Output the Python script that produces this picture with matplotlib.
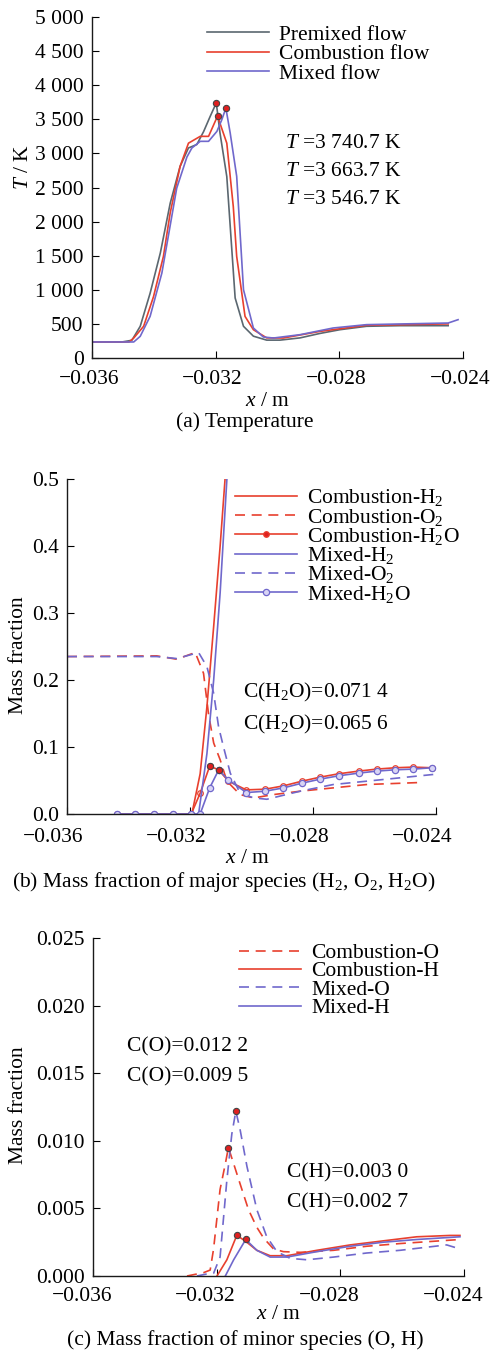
import numpy as np
import matplotlib
matplotlib.use('Agg')
import matplotlib.pyplot as plt
from matplotlib import rcParams
from matplotlib.ticker import FuncFormatter
from matplotlib.transforms import ScaledTranslation

rcParams.update({
    'font.family': ['Liberation Serif', 'DejaVu Serif'], 'font.size': 15.5,
    'mathtext.fontset': 'custom', 'mathtext.rm': 'Liberation Serif',
    'mathtext.it': 'Liberation Serif:italic',
    'axes.linewidth': 1.0, 'axes.spines.top': False, 'axes.spines.right': False,
    'xtick.direction': 'in', 'ytick.direction': 'in',
    'xtick.major.size': 5, 'ytick.major.size': 5,
    'xtick.major.pad': 7, 'ytick.major.pad': 6,
    'axes.edgecolor': '0.1', 'lines.linewidth': 1.2,
})
GRAY = '#5b6770'; RED = '#e8402e'; BLUE = '#7068cc'
DASH = (0, (6, 4))

# ---------- (a) temperature ----------
x_pre = [-0.0360, -0.03503, -0.03471, -0.03444, -0.03412, -0.03379, -0.03347, -0.03315, -0.03288,
         -0.03261, -0.03239, -0.03218, -0.03198, -0.03186, -0.03164, -0.03137, -0.03110, -0.03078,
         -0.03035, -0.02992, -0.02927, -0.02863, -0.02798, -0.02712, -0.02604, -0.02448]
T_pre = [235, 235, 260, 465, 950, 1540, 2270, 2810, 3080, 3130, 3320, 3540, 3740.7, 3300, 2660, 880,
         465, 320, 262, 262, 295, 360, 415, 465, 474, 474]
x_com = [-0.0360, -0.03480, -0.03465, -0.03433, -0.03401, -0.03369, -0.03347, -0.03315, -0.03288,
         -0.03250, -0.03223, -0.03194, -0.03164, -0.03143, -0.03132, -0.03105, -0.03078, -0.03035,
         -0.02981, -0.02863, -0.02712, -0.02448]
T_com = [235, 235, 293, 465, 900, 1490, 2130, 2810, 3150, 3250, 3250, 3546.7, 3150, 2220, 1490,
         610, 415, 295, 293, 390, 480, 500]
x_mix = [-0.0360, -0.03465, -0.03444, -0.03412, -0.03374, -0.03326, -0.03293, -0.03277, -0.03250,
         -0.03223, -0.03196, -0.03180, -0.03167, -0.03153, -0.03132, -0.03110, -0.03078, -0.03046,
         -0.03013, -0.02927, -0.02820, -0.02712, -0.02448, -0.02416]
T_mix = [235, 235, 318, 611, 1246, 2490, 2947, 3079, 3177, 3177, 3323, 3495, 3663.7, 3299, 2664,
         1002, 440, 308, 293, 342, 440, 489, 513, 562]
T_notes = ['3 740.7', '3 663.7', '3 546.7']

# ---------- (b) major species ----------
xb_h2o = [-0.03438, -0.03378, -0.03318, -0.03256, -0.03196, -0.03167, -0.03136, -0.03107, -0.03075,
          -0.03017, -0.02956, -0.02896, -0.02836, -0.02777, -0.02717, -0.02652, -0.02593, -0.02533,
          -0.02474, -0.02414]
com_h2o = [0, 0, 0, 0, 0, 0.031, 0.0714, 0.066, 0.049, 0.036, 0.037, 0.042, 0.049, 0.055, 0.060,
           0.064, 0.067, 0.069, 0.070, 0.069]
mix_h2o = [0, 0, 0, 0, 0, 0.0, 0.039, 0.0656, 0.051, 0.032, 0.034, 0.039, 0.046, 0.052, 0.057,
           0.061, 0.064, 0.066, 0.067, 0.069]
xb_com_h2 = [-0.03194, -0.03167, -0.03145, -0.03123, -0.03102, -0.03086, -0.03070]
com_h2 = [0, 0.06, 0.16, 0.28, 0.40, 0.50, 0.60]
xb_mix_h2 = [-0.03172, -0.03145, -0.03123, -0.03102, -0.03080, -0.03064]
mix_h2 = [0, 0.09, 0.20, 0.33, 0.50, 0.60]
xb_com_o2 = [-0.0360, -0.03308, -0.03243, -0.03183, -0.03156, -0.03140, -0.03123, -0.03102, -0.03080,
             -0.03037, -0.02993, -0.02928, -0.02842, -0.02734, -0.02625, -0.02452]
com_o2 = [0.235, 0.236, 0.231, 0.241, 0.210, 0.150, 0.106, 0.081, 0.049, 0.029, 0.024, 0.029, 0.034,
          0.039, 0.044, 0.047]
xb_mix_o2 = [-0.0360, -0.03308, -0.03243, -0.03172, -0.03145, -0.03123, -0.03107, -0.03091, -0.03069,
             -0.03037, -0.02993, -0.02950, -0.02842, -0.02734, -0.02625, -0.02409]
mix_o2 = [0.235, 0.235, 0.232, 0.241, 0.220, 0.180, 0.130, 0.100, 0.061, 0.031, 0.024, 0.022, 0.034,
          0.044, 0.049, 0.059]
h2o_notes = ['0.071 4', '0.065 6']

# ---------- (c) minor species ----------
xc_com_o = [-0.03296, -0.03242, -0.03221, -0.03210, -0.03189, -0.03172, -0.03162, -0.03145, -0.03124,
            -0.03097, -0.03070, -0.03048, -0.03016, -0.02984, -0.02930, -0.02822, -0.02715, -0.02607,
            -0.02413]
com_o = [0.0, 0.00025, 0.00044, 0.0020, 0.0064, 0.0083, 0.0095, 0.0083, 0.0068, 0.0049, 0.0036,
         0.0028, 0.0020, 0.0018, 0.00175, 0.0019, 0.0022, 0.0024, 0.0027]
xc_mix_o = [-0.03264, -0.03232, -0.03210, -0.03189, -0.03167, -0.03151, -0.03138, -0.03124, -0.03102,
            -0.03070, -0.03038, -0.03005, -0.02962, -0.02908, -0.02822, -0.02715, -0.02607, -0.02456,
            -0.02413]
mix_o = [0.0, 0.00015, 0.0002, 0.0014, 0.0071, 0.0105, 0.0122, 0.0108, 0.0081, 0.0049, 0.0029,
         0.0018, 0.0013, 0.0012, 0.0014, 0.0017, 0.0019, 0.0023, 0.0020]
xc_com_h = [-0.03199, -0.03167, -0.03135, -0.03108, -0.03070, -0.03027, -0.02973, -0.02876, -0.02768,
            -0.02661, -0.02553, -0.02445, -0.02413]
com_h = [0.0, 0.0012, 0.0030, 0.0026, 0.0019, 0.0015, 0.0015, 0.0019, 0.0023, 0.0026, 0.0029, 0.0030,
         0.0030]
xc_mix_h = [-0.03172, -0.03145, -0.03106, -0.03070, -0.03027, -0.02973, -0.02876, -0.02768, -0.02661,
            -0.02553, -0.02413]
mix_h = [0.0, 0.0012, 0.0027, 0.0019, 0.0014, 0.0014, 0.0018, 0.0022, 0.0025, 0.0027, 0.0029]
o_notes = ['0.012 2', '0.009 5']
h_notes = ['0.003 0', '0.002 7']

xticks = [-0.036, -0.032, -0.028, -0.024]

W, H = 491, 1353
fig = plt.figure(figsize=(W / 100, H / 100), dpi=100)


def axes_px(l, r, t, b):
    return fig.add_axes([l / W, 1 - b / H, (r - l) / W, (b - t) / H])


def peak_dot(ax, x, y):
    ax.plot(x, y, 'o', ms=4.5, mfc='#e02020', mec='#444444', mew=0.8, zorder=5)


def style(ax, ylim, yticks, yfmt, shift, drop, xlab_pos):
    ax.set_xlim(-0.036, -0.024)
    ax.set_xticks(xticks)
    ax.set_xticklabels([])
    # the printed x tick labels sit a little left of their ticks
    tr = ax.get_xaxis_transform() + ScaledTranslation(-shift / 100, -drop / 100,
                                                      fig.dpi_scale_trans)
    for v in xticks:
        ax.text(v, 0, f'{v:.3f}'.replace('-', '\u2212'), transform=tr,
                ha='center', va='top', clip_on=False)
    ax.set_ylim(*ylim)
    ax.set_yticks(yticks)
    ax.yaxis.set_major_formatter(FuncFormatter(yfmt))
    ax.set_xlabel('$x$ / m')
    ax.xaxis.set_label_coords(*xlab_pos)
    for s in ('left', 'bottom'):
        ax.spines[s].set_clip_on(False)


leg_kw = dict(frameon=False, handlelength=2.9, handletextpad=0.45,
              borderaxespad=0, borderpad=0)

# panel a
ax = axes_px(92, 463, 17, 358)
ax.plot(x_pre, T_pre, color=GRAY, label='Premixed flow')
ax.plot(x_com, T_com, color=RED, label='Combustion flow')
ax.plot(x_mix, T_mix, color=BLUE, label='Mixed flow')
for xs, ts in ((x_pre, T_pre), (x_com, T_com), (x_mix, T_mix)):
    i = int(np.argmax(ts[:-2]))
    peak_dot(ax, xs[i], ts[i])
style(ax, (0, 5000), range(0, 5001, 500),
      lambda v, p: f'{int(v):,}'.replace(',', ' '), 3, 12, (0.474, -0.1))
ax.set_ylabel('$T$ / K')
ax.yaxis.set_label_coords(-0.16, 0.56)
for k, s in enumerate(T_notes):
    ax.text(-0.02976, 3143 - 406 * k, f'$T$ =3 {s[2:]} K', va='center', ha='left')
ax.legend(loc='upper left', bbox_to_anchor=((207 - 92) / 371, 0.978), labelspacing=-0.02, **leg_kw)
fig.text(245 / W, 1 - 422 / H, '(a) Temperature', ha='center', va='center')

# panel b
ax = axes_px(67, 436, 479, 814)
ax.plot(xb_com_h2, com_h2, color=RED, label='Combustion-H$_2$')
ax.plot(xb_com_o2, com_o2, color=RED, ls=DASH, label='Combustion-O$_2$')
ax.plot(xb_h2o, com_h2o, color=RED, marker='o', ms=4, mfc='none', mew=0.9,
        label='Combustion-H$_2$O')
ax.plot(xb_mix_h2, mix_h2, color=BLUE, label='Mixed-H$_2$')
ax.plot(xb_mix_o2, mix_o2, color=BLUE, ls=DASH, label='Mixed-O$_2$')
ax.plot(xb_h2o, mix_h2o, color=BLUE, marker='o', ms=4.5, mfc='#d8d4f4', mew=0.9,
        label='Mixed-H$_2$O')
peak_dot(ax, xb_h2o[6], com_h2o[6])
peak_dot(ax, xb_h2o[7], mix_h2o[7])
style(ax, (0, 0.5), np.arange(0, 0.51, 0.1), lambda v, p: f'{v:.1f}', 14, 14, (0.488, -0.105))
ax.set_ylabel('Mass fraction')
ax.yaxis.set_label_coords(-0.106, 0.475)
for k, s in enumerate(h2o_notes):
    ax.text(-0.03028, 0.181 - 0.048 * k, f'C(H$_2$O)={s}', va='center', ha='left')
leg = ax.legend(loc='upper left', bbox_to_anchor=((235 - 67) / 369, 0.975), labelspacing=-0.08, **leg_kw)
leg.legend_handles[2].set_markerfacecolor('#e02020')
fig.text(224 / W, 1 - 882 / H, '(b) Mass fraction of major species (H$_2$, O$_2$, H$_2$O)',
         ha='center', va='center')

# panel c
ax = axes_px(93, 464, 938, 1276)
ax.plot(xc_com_o, com_o, color=RED, ls=DASH, label='Combustion-O')
ax.plot(xc_com_h, com_h, color=RED, label='Combustion-H')
ax.plot(xc_mix_o, mix_o, color=BLUE, ls=DASH, label='Mixed-O')
ax.plot(xc_mix_h, mix_h, color=BLUE, label='Mixed-H')
for xs, ys in ((xc_com_o, com_o), (xc_mix_o, mix_o), (xc_com_h, com_h), (xc_mix_h, mix_h)):
    i = int(np.argmax(ys[:8]))
    peak_dot(ax, xs[i], ys[i])
style(ax, (0, 0.025), np.arange(0, 0.0251, 0.005), lambda v, p: f'{v:.3f}', 11, 11, (0.5, -0.086))
ax.set_ylabel('Mass fraction')
ax.yaxis.set_label_coords(-0.175, 0.506)
for k, s in enumerate(o_notes):
    ax.text(-0.0349, 0.01698 - 0.00222 * k, f'C(O)={s}', va='center', ha='left')
for k, s in enumerate(h_notes):
    ax.text(-0.02973, 0.0076 - 0.00222 * k, f'C(H)={s}', va='center', ha='left')
ax.legend(loc='upper left', bbox_to_anchor=((239 - 93) / 371, 0.985), labelspacing=-0.08, **leg_kw)
fig.text(245 / W, 1 - 1340 / H, '(c) Mass fraction of minor species (O, H)',
         ha='center', va='center')

fig.savefig('out.png', dpi=100)
